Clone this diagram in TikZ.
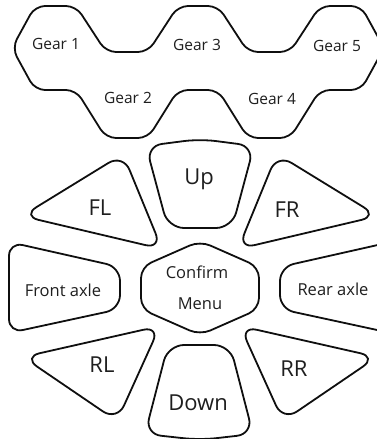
\documentclass[tikz,border=0pt]{standalone}
\usepackage{fontspec}
\setmainfont{Open Sans}
\usetikzlibrary{positioning}
\definecolor{padline}{RGB}{15,15,15}
\definecolor{padtext}{RGB}{30,30,30}

\begin{document}
\begin{tikzpicture}[x=1pt,y=-1pt,
  pad/.style={draw=padline,line width=1.8pt,rounded corners=14pt,line join=round},
  gearpad/.style={pad,rounded corners=10pt},
  biglabel/.style={font=\fontsize{22}{25}\selectfont,text=padtext},
  midlabel/.style={font=\fontsize{16.5}{19}\selectfont,text=padtext},
  gearlabel/.style={font=\fontsize{15.5}{18}\selectfont,text=padtext}]
\useasboundingbox (0,0) rectangle (377,439);
\clip (0,0) rectangle (377,439);
% gear strip
\draw[gearpad] (12,48) -- (35,6) -- (76,6) -- (106,52) -- (148,52) -- (178,6) -- (218,6)
  -- (248,52) -- (290,52) -- (320,6) -- (361,6) -- (384,48) -- (361,90) -- (320,90)
  -- (290,138) -- (248,138) -- (218,90) -- (178,90) -- (148,138) -- (106,138)
  -- (76,90) -- (35,90) -- cycle;
\node[gearlabel] (gear1) at (56,44) {Gear 1};
\node[gearlabel] (gear3) at (197,45) {Gear 3};
\node[gearlabel] (gear5) at (337,46) {Gear 5};
\node[gearlabel] (gear2) at (128,98) {Gear 2};
\node[gearlabel] (gear4) at (272,99) {Gear 4};
% up / down
\draw[pad,rounded corners=16pt] (146,146) -- (200,139) -- (254,146) -- (232,228) -- (168,228) -- cycle;
\node[biglabel] (up) at (199,179) {Up};
\draw[pad,rounded corners=16pt] (168,345) -- (230,345) -- (253,434) -- (200,440) -- (145,434) -- cycle;
\node[biglabel] (down) at (198,403) {Down};
% corner keys
\draw[pad,rounded corners=17pt] (22,216) -- (123,154) -- (162,249) -- cycle;
\node[biglabel] (fl) at (100,208) {FL};
\draw[pad,rounded corners=17pt] (378,216) -- (277,154) -- (238,249) -- cycle;
\node[biglabel] (fr) at (287,210) {FR};
\draw[pad,rounded corners=17pt] (23,357) -- (160,326) -- (117,421) -- cycle;
\node[biglabel] (rl) at (102,365) {RL};
\draw[pad,rounded corners=17pt] (377,357) -- (240,326) -- (283,421) -- cycle;
\node[biglabel] (rr) at (294,369) {RR};
% middle row
\draw[pad] (9,242) -- (120,267) -- (120,309) -- (9,333) -- cycle;
\node[midlabel] (front) at (63,290) {Front axle};
\draw[pad] (391,242) -- (280,267) -- (280,309) -- (391,333) -- cycle;
\node[midlabel] (rear) at (333,289) {Rear axle};
\draw[pad,rounded corners=11pt] (200,241) -- (259,267) -- (259,309) -- (200,335)
  -- (141,309) -- (141,267) -- cycle;
\node[midlabel] (confirm) at (197,272) {Confirm};
\node[midlabel] (menu) at (200,304) {Menu};
\end{tikzpicture}
\end{document}
